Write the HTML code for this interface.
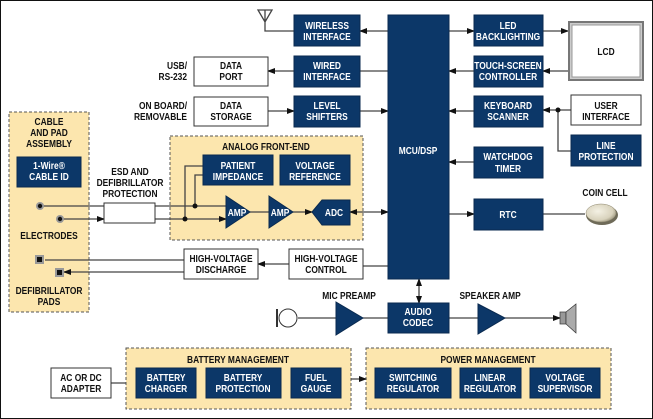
<!DOCTYPE html>
<html><head><meta charset="utf-8"><style>
body{margin:0;background:#fff}
svg{display:block}
text{font-family:"Liberation Sans Narrow","Liberation Sans",sans-serif;font-weight:bold;font-size:10.5px;text-anchor:middle;transform-box:fill-box;transform-origin:center;transform:scaleX(0.8)}
text.e{text-anchor:end;transform-origin:right center}
.w{fill:#fff}
.k{fill:#111}
</style></head><body>
<svg width="653" height="419" viewBox="0 0 653 419" xmlns="http://www.w3.org/2000/svg">
<defs>
<marker id="a" markerWidth="8" markerHeight="6" refX="7" refY="3" orient="auto" markerUnits="userSpaceOnUse"><path d="M0,0 L8,3 L0,6z" fill="#111"/></marker>
<marker id="s" markerWidth="8" markerHeight="6" refX="1" refY="3" orient="auto" markerUnits="userSpaceOnUse"><path d="M8,0 L0,3 L8,6z" fill="#111"/></marker>
<radialGradient id="coin" cx="0.4" cy="0.4" r="0.7"><stop offset="0" stop-color="#f4f1e4"/><stop offset="0.7" stop-color="#d8d2bc"/><stop offset="1" stop-color="#8d876f"/></radialGradient>
</defs>
<rect x="0.5" y="0.5" width="652" height="418" fill="#fff" stroke="#111"/>
<g fill="#fce6ae" stroke="#555" stroke-dasharray="3,2">
<rect x="9" y="112" width="80" height="200"/>
<rect x="170" y="136" width="193" height="104"/>
<rect x="126" y="348" width="225" height="61"/>
<rect x="366" y="348" width="245" height="61"/>
</g>
<g stroke="#444" stroke-width="1.3" fill="none">
<path d="M258,10 L272,10 L265,22 Z M265,10 V31 H294"/>
<path d="M268,71 H294 M268,111 H294" marker-start="url(#s)" marker-end="url(#a)"/>
<path d="M360,31 H388 M360,71 H388 M360,111 H388" marker-start="url(#s)" marker-end="url(#a)"/>
<path d="M449,31 H474" marker-end="url(#a)"/>
<path d="M543,31 H568" marker-end="url(#a)"/>
<path d="M474,71 H449" marker-end="url(#a)"/>
<path d="M568,71 H543" marker-end="url(#a)"/>
<path d="M474,111 H449" marker-end="url(#a)"/>
<path d="M571,110 H543" marker-end="url(#a)"/>
<path d="M558,110 V151 H571"/>
<path d="M449,162 H474 M449,214 H474" marker-start="url(#s)" marker-end="url(#a)"/>
<path d="M543,214 H585"/>
<path d="M40,206 H104 M60,219 H104" marker-end="url(#a)"/>
<path d="M155,206 H226 M155,219 H226" marker-end="url(#a)"/>
<path d="M203,166 H185 V219 M203,175 H195 V206"/>
<path d="M250,212 H269 M293,212 H312" marker-end="url(#a)"/>
<path d="M350,212 H388" marker-start="url(#s)" marker-end="url(#a)"/>
<path d="M388,266 H363 M289,264 H258" marker-end="url(#a)"/>
<path d="M184,260 H45 M184,272 H64" marker-end="url(#a)"/>
<path d="M298,318 H336 M363,318 H388 M449,318 H478 M505,318 H560" marker-end="url(#a)"/>
<path d="M419,279 V303" marker-start="url(#s)" marker-end="url(#a)"/>
<path d="M111,383 H126 M351,379 H366" marker-end="url(#a)"/>
</g>
<g fill="#111"><circle cx="558" cy="110" r="2.5"/><circle cx="195" cy="206" r="2.5"/><circle cx="185" cy="219" r="2.5"/></g>
<g fill="#0c3768" stroke="#0a2a4f">
<rect x="294" y="15" width="66" height="31"/>
<rect x="294" y="56" width="66" height="31"/>
<rect x="294" y="96" width="66" height="31"/>
<rect x="388" y="15" width="61" height="264"/>
<rect x="474" y="15" width="69" height="31"/>
<rect x="474" y="56" width="69" height="31"/>
<rect x="474" y="96" width="69" height="31"/>
<rect x="474" y="147" width="69" height="31"/>
<rect x="474" y="199" width="69" height="31"/>
<rect x="571" y="135" width="70" height="31"/>
<rect x="17" y="157" width="64" height="30"/>
<rect x="203" y="155" width="70" height="30"/>
<rect x="280" y="155" width="70" height="30"/>
<path d="M226,196 L250,212 L226,228Z M269,196 L293,212 L269,228Z M312,212 L322,200 L350,200 L350,225 L322,225Z"/>
<path d="M336,302 L363,318 L336,335Z M478,304 L505,318 L478,334Z"/>
<rect x="388" y="303" width="61" height="30"/>
<rect x="136" y="368" width="60" height="30"/>
<rect x="206" y="368" width="75" height="30"/>
<rect x="291" y="368" width="50" height="30"/>
<rect x="375" y="368" width="76" height="30"/>
<rect x="460" y="368" width="61" height="30"/>
<rect x="530" y="368" width="70" height="30"/>
</g>
<g fill="#fff" stroke="#333">
<rect x="194" y="57" width="74" height="29"/>
<rect x="194" y="97" width="74" height="29"/>
<rect x="571" y="95" width="70" height="30"/>
<rect x="104" y="203" width="51" height="20"/>
<rect x="184" y="249" width="74" height="30"/>
<rect x="289" y="249" width="74" height="30"/>
<rect x="51" y="368" width="60" height="30"/>
</g>
<rect x="568" y="21" width="76" height="60" fill="#777"/>
<rect x="570" y="23" width="72" height="56" fill="#ccc"/>
<rect x="572" y="25" width="68" height="52" fill="#fff" stroke="#999"/>
<ellipse cx="602" cy="215" rx="16" ry="10" fill="#6e6a58"/>
<ellipse cx="601" cy="213" rx="15" ry="9" fill="url(#coin)" stroke="#8d876f" stroke-width="0.5"/>
<circle cx="40" cy="206" r="4" fill="#999"/><circle cx="40" cy="206" r="2.2" fill="#111"/>
<circle cx="60" cy="219" r="4" fill="#999"/><circle cx="60" cy="219" r="2.2" fill="#111"/>
<rect x="35" y="255" width="9" height="9" fill="#999"/><rect x="37" y="257" width="5" height="5" fill="#111"/>
<rect x="55" y="268" width="9" height="9" fill="#999"/><rect x="57" y="270" width="5" height="5" fill="#111"/>
<rect x="276" y="309" width="2" height="18" fill="#333"/>
<circle cx="288" cy="318" r="9" fill="#fff" stroke="#333"/>
<rect x="560" y="312" width="6" height="12" fill="#999" stroke="#333" stroke-width="0.7"/>
<path d="M566,312 L576,304 L576,333 L566,324Z" fill="#aaa" stroke="#333" stroke-width="0.7"/>
<g class="w">
<text x="327" y="29">WIRELESS</text><text x="327" y="40">INTERFACE</text>
<text x="327" y="69">WIRED</text><text x="327" y="80">INTERFACE</text>
<text x="327" y="109">LEVEL</text><text x="327" y="120">SHIFTERS</text>
<text x="418" y="154">MCU/DSP</text>
<text x="508" y="29">LED</text><text x="508" y="40">BACKLIGHTING</text>
<text x="508" y="69">TOUCH-SCREEN</text><text x="508" y="80">CONTROLLER</text>
<text x="508" y="109">KEYBOARD</text><text x="508" y="120">SCANNER</text>
<text x="508" y="160">WATCHDOG</text><text x="508" y="172">TIMER</text>
<text x="508" y="218">RTC</text>
<text x="606" y="149">LINE</text><text x="606" y="160">PROTECTION</text>
<text x="49" y="169">1-Wire®</text><text x="49" y="180">CABLE ID</text>
<text x="238" y="169">PATIENT</text><text x="238" y="180">IMPEDANCE</text>
<text x="315" y="169">VOLTAGE</text><text x="315" y="180">REFERENCE</text>
<text x="237" y="216">AMP</text><text x="280" y="216">AMP</text><text x="334" y="216">ADC</text>
<text x="418" y="315">AUDIO</text><text x="418" y="326">CODEC</text>
<text x="166" y="381">BATTERY</text><text x="166" y="392">CHARGER</text>
<text x="243" y="381">BATTERY</text><text x="243" y="392">PROTECTION</text>
<text x="316" y="381">FUEL</text><text x="316" y="392">GAUGE</text>
<text x="413" y="381">SWITCHING</text><text x="413" y="392">REGULATOR</text>
<text x="490" y="381">LINEAR</text><text x="490" y="392">REGULATOR</text>
<text x="565" y="381">VOLTAGE</text><text x="565" y="392">SUPERVISOR</text>
</g>
<g class="k">
<text x="231" y="69">DATA</text><text x="231" y="80">PORT</text>
<text x="231" y="109">DATA</text><text x="231" y="120">STORAGE</text>
<text class="e" x="187" y="69">USB/</text><text class="e" x="187" y="80">RS-232</text>
<text class="e" x="187" y="109">ON BOARD/</text><text class="e" x="187" y="120">REMOVABLE</text>
<text x="606" y="55">LCD</text>
<text x="606" y="109">USER</text><text x="606" y="120">INTERFACE</text>
<text x="605" y="196">COIN CELL</text>
<text x="49" y="125">CABLE</text><text x="49" y="136">AND PAD</text><text x="49" y="147">ASSEMBLY</text>
<text x="49" y="239">ELECTRODES</text>
<text x="49" y="294">DEFIBRILLATOR</text><text x="49" y="305">PADS</text>
<text x="130" y="175">ESD AND</text><text x="130" y="186">DEFIBRILLATOR</text><text x="130" y="197">PROTECTION</text>
<text x="266" y="150">ANALOG FRONT-END</text>
<text x="221" y="262">HIGH-VOLTAGE</text><text x="221" y="273">DISCHARGE</text>
<text x="326" y="262">HIGH-VOLTAGE</text><text x="326" y="273">CONTROL</text>
<text x="349" y="299">MIC PREAMP</text>
<text x="490" y="299">SPEAKER AMP</text>
<text x="238" y="363">BATTERY MANAGEMENT</text>
<text x="488" y="363">POWER MANAGEMENT</text>
<text x="81" y="381">AC OR DC</text><text x="81" y="392">ADAPTER</text>
</g>
</svg>
</body></html>
